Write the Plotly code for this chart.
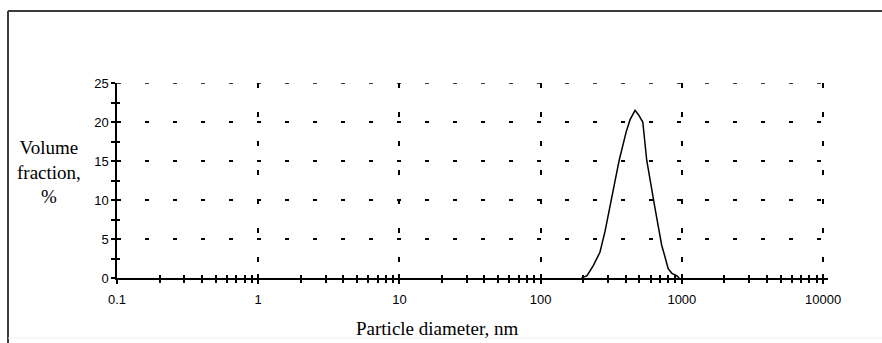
import plotly.graph_objects as go

# Data
diameter_nm = [195, 213, 236, 263, 286, 310, 336, 360, 403, 430, 466, 490, 529, 564, 596, 645, 683, 720, 760, 800, 850, 918, 960]
volume_pct = [0, 0.3, 1.6, 3.3, 6.0, 9.0, 12.4, 15.1, 18.7, 20.3, 21.5, 21.0, 20.0, 15.1, 12.4, 9.0, 6.5, 4.2, 2.7, 1.2, 0.6, 0.3, 0]

x_major = [0.1, 1, 10, 100, 1000, 10000]
x_major_text = ["0.1", "1", "10", "100", "1000", "10000"]
x_minor = [m * 10 ** e for e in range(-1, 4) for m in range(2, 10)]
y_major = [0, 5, 10, 15, 20, 25]
y_minor = [2.5, 7.5, 12.5, 17.5, 22.5]

# Pixel layout
W, H = 882, 343
L, R, T, B = 117, 828, 83, 278
pw, ph = R - L, B - T


def px(xp):
    return (xp - L) / pw


def py(yp):
    return (B - yp) / ph


fig = go.Figure()
fig.add_trace(go.Scatter(x=diameter_nm, y=volume_pct, mode="lines",
                         line=dict(color="black", width=1.5), showlegend=False,
                         hoverinfo="skip"))
# dummy trace for overlay axes (inside ticks)
fig.add_trace(go.Scatter(x=[None], y=[None], xaxis="x2", yaxis="y2", showlegend=False))

tickfont = dict(family="Liberation Sans, Arial, sans-serif", size=13, color="black")
titlefont = dict(family="Liberation Serif, Times New Roman, serif", size=19, color="black")
xrange_ = [-1, 4.035]
yrange_ = [0, 25]

fig.update_layout(
    width=W, height=H,
    margin=dict(l=L, r=W - R, t=T, b=H - B),
    paper_bgcolor="white", plot_bgcolor="white",
    xaxis=dict(type="log", range=xrange_, tickmode="array", tickvals=x_major,
               ticktext=x_major_text, ticks="outside", ticklen=4, tickwidth=1.5,
               tickcolor="black", showline=True, linecolor="black", linewidth=1.5,
               showgrid=True, gridcolor="black", gridwidth=1.5, griddash="5px,24px",
               zeroline=False, tickfont=tickfont, ticklabelstandoff=5,
               minor=dict(tickvals=x_minor, ticks="outside", ticklen=3, tickwidth=1.5,
                          tickcolor="black", showgrid=False)),
    yaxis=dict(range=yrange_, tickmode="array", tickvals=y_major,
               ticks="outside", ticklen=4, tickwidth=1.5, tickcolor="black",
               showline=True, linecolor="black", linewidth=1.5,
               showgrid=True, gridcolor="black", gridwidth=1.5, griddash="4px,24px",
               zeroline=False, tickfont=tickfont,
               minor=dict(tickvals=y_minor, ticks="outside", ticklen=4, tickwidth=1.5,
                          tickcolor="black", showgrid=False)),
    xaxis2=dict(type="log", range=xrange_, overlaying="x", anchor="y2", side="bottom",
                tickmode="array", tickvals=x_major, ticks="inside", ticklen=4,
                tickwidth=1.5, tickcolor="black", showticklabels=False, showgrid=False,
                showline=False, zeroline=False,
                minor=dict(tickvals=x_minor, ticks="inside", ticklen=3, tickwidth=1.5,
                           tickcolor="black", showgrid=False)),
    yaxis2=dict(range=yrange_, overlaying="y", anchor="x2", side="left",
                tickmode="array", tickvals=y_major, ticks="inside", ticklen=3,
                tickwidth=1.5, tickcolor="black", showticklabels=False, showgrid=False,
                showline=False, zeroline=False,
                minor=dict(tickvals=y_minor, ticks="inside", ticklen=3, tickwidth=1.5,
                           tickcolor="black", showgrid=False)),
    annotations=[
        dict(text="Particle diameter, nm", xref="paper", yref="paper",
             x=px(437), y=py(328), xanchor="center", yanchor="middle", showarrow=False,
             font=titlefont),
        dict(text="Volume<br>fraction,<br>%", xref="paper", yref="paper",
             x=px(49), y=py(172), xanchor="center", yanchor="middle", align="center",
             showarrow=False, font=titlefont),
    ],
    shapes=[
        # top gridline at the last y tick (hidden by plotly at the plot edge)
        dict(type="line", xref="paper", yref="y", x0=0, x1=1, y0=y_major[-1], y1=y_major[-1],
             line=dict(color="black", width=1.5, dash="4px,24px"), layer="below"),
        dict(type="line", xref="paper", yref="paper", x0=px(8), x1=px(W), y0=py(11), y1=py(11),
             line=dict(color="#3a3a3a", width=2)),
        dict(type="line", xref="paper", yref="paper", x0=px(8), x1=px(8), y0=py(11), y1=py(H),
             line=dict(color="#3a3a3a", width=2)),
        dict(type="line", xref="paper", yref="paper", x0=px(8), x1=px(W), y0=py(338), y1=py(338),
             line=dict(color="#eeeeee", width=1)),
    ],
)

fig.write_html("out.html")
